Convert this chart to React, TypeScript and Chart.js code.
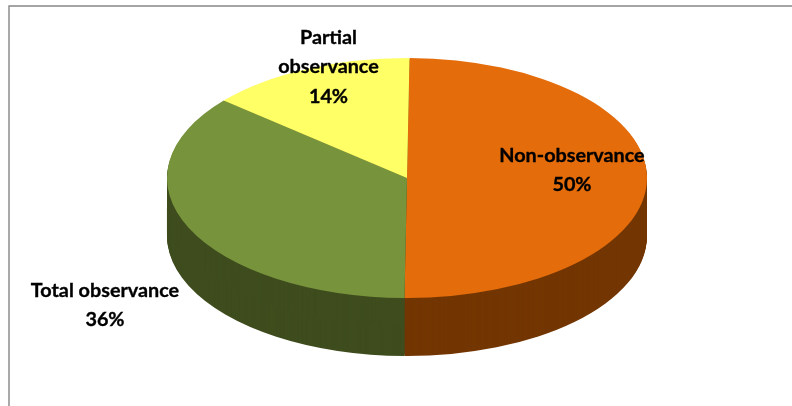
import React, { useEffect, useRef } from "react";
import { Chart, registerables } from "chart.js";

Chart.register(...registerables);

// Survey results, clockwise from twelve o'clock
const categories = ["Non-observance", "Total observance", "Partial observance"];
const shares = [50, 36, 14];
const categoryLines = [["Non-observance"], ["Total observance"], ["Partial", "observance"]];
const topColors = ["#E46C0A", "#77933C", "#FFFF66"];
const sideColors = ["#733602", "#3F4D1E", "#808033"];

// Label block centres and the tilted disc's geometry, in canvas pixels
const labelCentres = [
  { x: 572, y: 170 },
  { x: 105, y: 305 },
  { x: 328.5, y: 67 },
];
const LINE_HEIGHT = 29.5;
const DISC = { x: 407, y: 178, rx: 240, ry: 120, depth: 58 };

// Squashes the circular arcs into an ellipse and extrudes them downward
const tiltedPie = {
  id: "tiltedPie",
  beforeDraw(chart: any) {
    const { ctx, width, height } = chart;
    ctx.save();
    ctx.strokeStyle = "#868686";
    ctx.lineWidth = 1.4;
    ctx.beginPath();
    ctx.moveTo(9, height);
    ctx.lineTo(9, 6);
    ctx.lineTo(width, 6);
    ctx.stroke();
    ctx.restore();
  },
  beforeDatasetsDraw(chart: any) {
    const { ctx } = chart;
    const arcs = chart.getDatasetMeta(0).data;
    const { x, y, outerRadius } = arcs[0];
    const project = (dy: number) => {
      ctx.translate(DISC.x, DISC.y + dy);
      ctx.scale(DISC.rx / outerRadius, DISC.ry / outerRadius);
      ctx.translate(-x, -y);
    };
    for (let dy = DISC.depth; dy >= 1; dy--) {
      ctx.save();
      project(dy);
      arcs.forEach((arc: any, i: number) => {
        const own = arc.options;
        arc.options = Object.create(own, { backgroundColor: { value: sideColors[i] } });
        arc.draw(ctx);
        arc.options = own;
      });
      ctx.restore();
    }
    ctx.save();
    project(0);
  },
  afterDatasetsDraw(chart: any) {
    const { ctx } = chart;
    ctx.restore();
    ctx.save();
    ctx.font = "bold 19.8px Lato, 'Open Sans', sans-serif";
    ctx.fillStyle = "#000";
    ctx.strokeStyle = "#000";
    ctx.lineWidth = 0.35;
    ctx.textAlign = "center";
    ctx.textBaseline = "middle";
    categoryLines.forEach((lines, i) => {
      const all = [...lines, `${shares[i]}%`];
      const c = labelCentres[i];
      all.forEach((text, k) => {
        const ty = c.y + (k - (all.length - 1) / 2) * LINE_HEIGHT;
        ctx.fillText(text, c.x, ty);
        ctx.strokeText(text, c.x, ty);
      });
    });
    ctx.restore();
  },
};

export default function App() {
  const ref = useRef<HTMLCanvasElement>(null);
  useEffect(() => {
    const chart = new Chart(ref.current!, {
      type: "pie",
      data: {
        labels: categories,
        datasets: [
          { data: shares, backgroundColor: topColors, borderWidth: 0, clip: false } as any,
        ],
      },
      options: {
        responsive: false,
        animation: false,
        rotation: 0.6,
        plugins: { legend: { display: false }, tooltip: { enabled: false } },
      },
      plugins: [tiltedPie],
    });
    return () => chart.destroy();
  }, []);
  return (
    <div style={{ position: "fixed", left: 0, top: 0, width: 792, height: 406, background: "#fff" }}>
      <canvas ref={ref} width={792} height={406} style={{ display: "block" }} />
    </div>
  );
}
